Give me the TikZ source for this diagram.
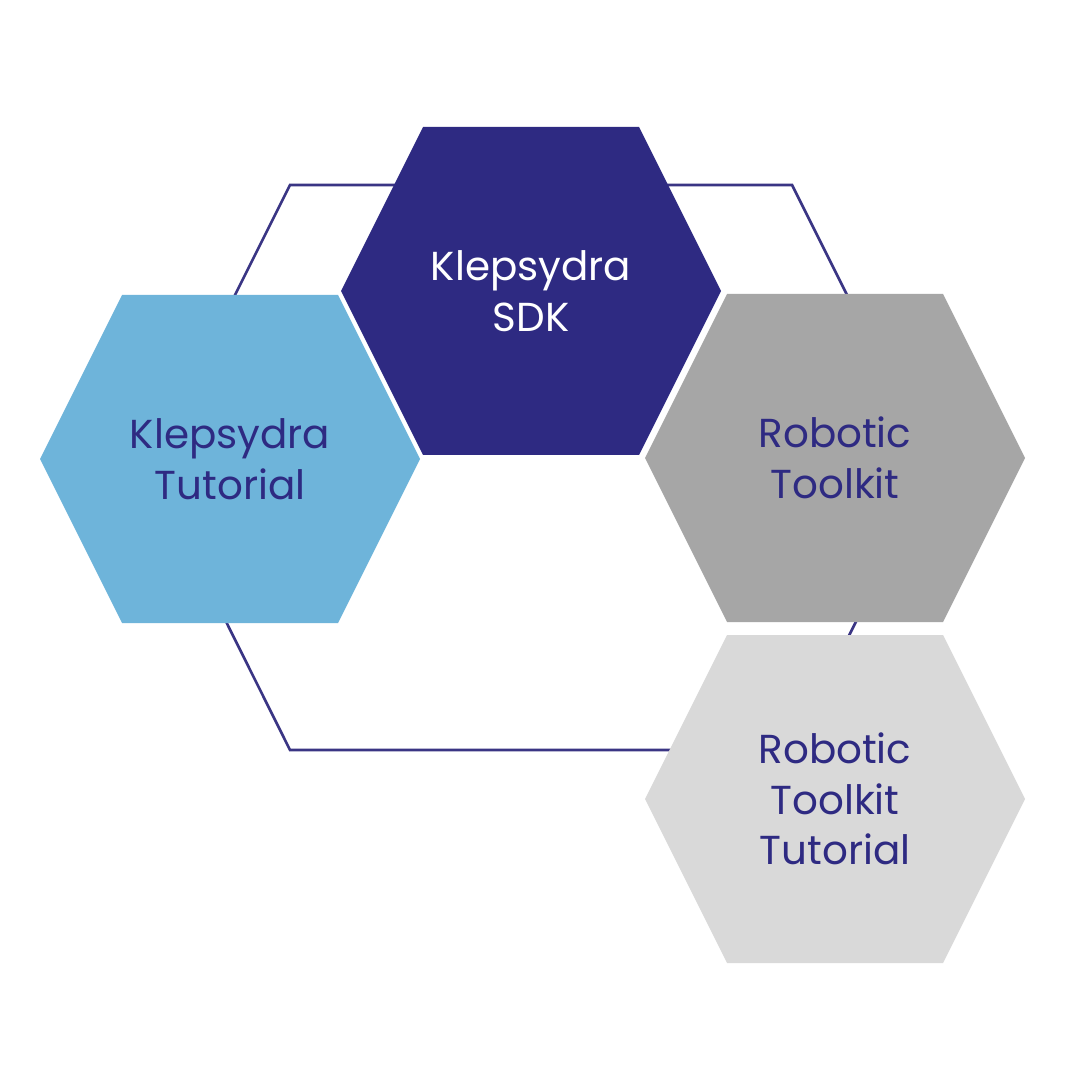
\documentclass[tikz,border=0pt]{standalone}
\usepackage{fontspec}
\setmainfont{Poppins}
\usepackage{xcolor}
\usepackage{tikz}
\definecolor{navy}{HTML}{2E2A82}
\definecolor{skyblue}{HTML}{6EB4DA}
\definecolor{midgray}{HTML}{A6A6A6}
\definecolor{palegray}{HTML}{D9D9D9}
\definecolor{ringline}{HTML}{3A3584}
\tikzset{
  ring/.style={draw=ringline, line width=0.75pt, line join=miter},
  hexSDK/.style={fill=navy},
  hexTut/.style={fill=skyblue},
  hexKit/.style={fill=midgray},
  hexKitTut/.style={fill=palegray},
  lab/.style={align=center, inner sep=0pt, text=navy,
    font=\fontsize{11.5}{14.4}\selectfont}
}
% flat-top hexagon round a centre
\newcommand{\hexpatch}[2]{%
  \fill[#2] (#1) ++(-108,-164) -- ++(216,0) -- ++(82,164) -- ++(-82,164)
    -- ++(-216,0) -- ++(-82,-164) -- cycle;}

\begin{document}
\begin{tikzpicture}[x=0.01cm, y=-0.01cm]
  \fill[white] (0,0) rectangle (1080,1080);
  \useasboundingbox (0,0) rectangle (1080,1080);

  % outer ring
  \draw[ring] (290,185) -- (792,185) -- (933,467) -- (792,750)
    -- (290,750) -- (149,467) -- cycle;

  \coordinate (sdkC) at (531,291);
  \coordinate (sdktutC) at (230,459);
  \coordinate (toolkitC) at (835,458);
  \coordinate (toolkittutC) at (835,799);

  \hexpatch{sdkC}{hexSDK}
  \hexpatch{sdktutC}{hexTut}
  \hexpatch{toolkitC}{hexKit}
  \hexpatch{toolkittutC}{hexKitTut}

  \node[lab, text=white] (sdk) at (sdkC) {Klepsydra\\SDK};
  \node[lab] (sdktut) at (sdktutC) {Klepsydra\\Tutorial};
  \node[lab] (toolkit) at (toolkitC) {Robotic\\Toolkit};
  \node[lab] (toolkittut) at (toolkittutC) {Robotic\\Toolkit\\Tutorial};
\end{tikzpicture}
\end{document}
